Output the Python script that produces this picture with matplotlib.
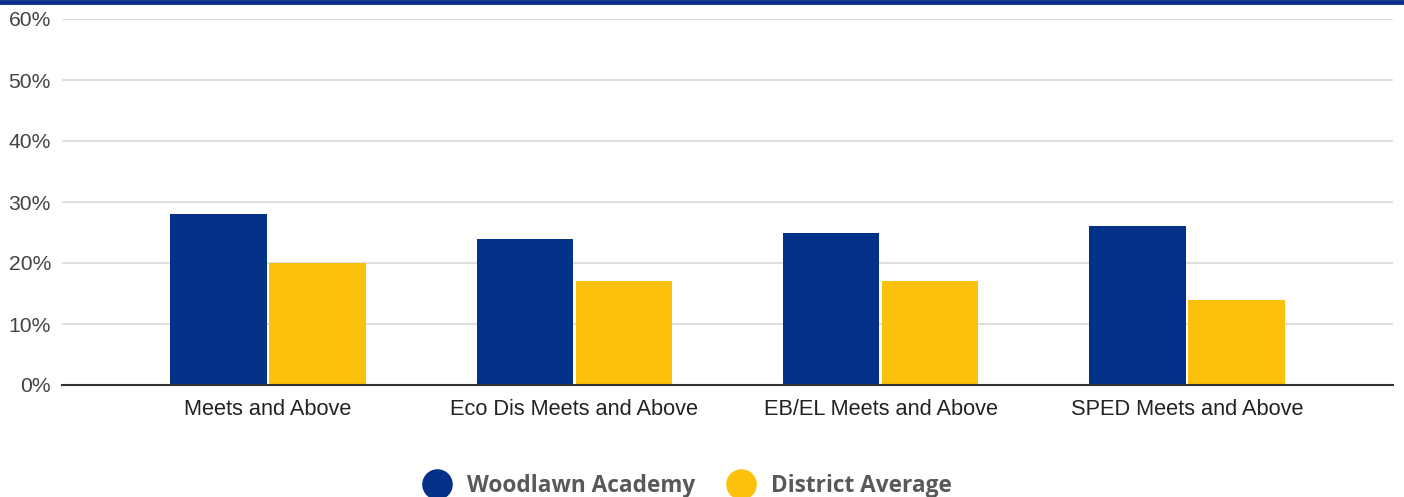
import matplotlib
matplotlib.use("Agg")
import matplotlib.pyplot as plt
from matplotlib.lines import Line2D
import numpy as np

categories = ["Meets and Above", "Eco Dis Meets and Above", "EB/EL Meets and Above", "SPED Meets and Above"]
woodlawn = [28, 24, 25, 26]
district = [20, 17, 17, 14]
series_names = ["Woodlawn Academy", "District Average"]
yticks = [0, 10, 20, 30, 40, 50, 60]

blue = "#023187"
yellow = "#fcc10a"

fig = plt.figure(figsize=(14.04, 4.97), dpi=100)
ax = fig.add_axes([62/1404, 112/497, (1393-62)/1404, (385-19)/497])

x = np.arange(len(categories))
w = 0.315
ax.bar(x - w/2 - 0.004, woodlawn, width=w, color=blue, zorder=3)
ax.bar(x + w/2 + 0.004, district, width=w, color=yellow, zorder=3)

ax.set_xlim(-0.672, 3.672)
ax.set_ylim(0, 60)
ax.set_yticks(yticks)
ax.set_yticklabels([f"{t}%" for t in yticks], fontsize=15.2, color="#444444", family="Liberation Sans")
ax.set_xticks(x)
ax.set_xticklabels(categories, fontsize=15.7, color="#222222", family="Liberation Sans")
ax.tick_params(axis="both", length=0)
ax.tick_params(axis="y", pad=8)
ax.tick_params(axis="x", pad=10)
ax.grid(axis="y", color="#d9d9d9", linewidth=1.2, zorder=0)
for s in ["top", "right", "left"]:
    ax.spines[s].set_visible(False)
ax.spines["bottom"].set_color("#333333")
ax.spines["bottom"].set_linewidth(1.5)
ax.spines["bottom"].set_zorder(4)

fig.add_artist(Line2D([0, 1], [1 - 2/497, 1 - 2/497], transform=fig.transFigure, color="#0b3088", linewidth=3.5))

handles = [Line2D([], [], marker="o", linestyle="none", markersize=21, markerfacecolor=c, markeredgecolor=c)
           for c in [blue, yellow]]
leg = fig.legend(handles, series_names, loc="center", bbox_to_anchor=(683/1404, 1 - 486/497),
                 ncol=2, frameon=False, handletextpad=0.35, columnspacing=1.0,
                 prop={"family": "Open Sans", "weight": "bold", "size": 16.3})
for t in leg.get_texts():
    t.set_color("#595959")

fig.savefig("out.png", dpi=100)
